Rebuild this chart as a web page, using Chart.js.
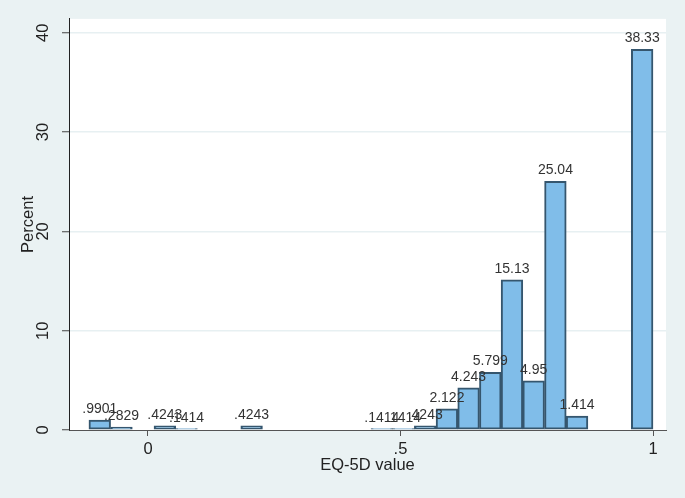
<!DOCTYPE html>
<html lang="en">

<head>
    <meta charset="UTF-8">
    <title>EQ-5D value histogram</title>
    <script src="https://cdn.jsdelivr.net/npm/chart.js"></script>
    <style>
        html, body {
            margin: 0;
            padding: 0;
            background: #eaf2f3;
        }

        #wrap {
            width: 685px;
            height: 498px;
        }
    </style>
</head>

<body>
    <div id="wrap">
        <canvas id="histChart" width="685" height="498"></canvas>
    </div>

    <script>
        // bin midpoints (EQ-5D value), percent in each bin, and the labels Stata printed
        const binCenters = [-0.0955, -0.0525, 0.0334, 0.0763, 0.2052, 0.4630, 0.5059, 0.5489,
            0.5919, 0.6348, 0.6778, 0.7207, 0.7637, 0.8067, 0.8496, 0.9785];
        const percents = [0.9901, 0.2829, 0.4243, 0.1414, 0.4243, 0.1414, 0.1414, 0.4243,
            2.122, 4.243, 5.799, 15.13, 4.95, 25.04, 1.414, 38.33];
        const barLabels = ['.9901', '.2829', '.4243', '.1414', '.4243', '.1414', '.1414', '.4243',
            '2.122', '4.243', '5.799', '15.13', '4.95', '25.04', '1.414', '38.33'];
        const xTicks = [0, 0.5, 1];
        const xTickLabels = ['0', '.5', '1'];
        const yTicks = [0, 10, 20, 30, 40];

        const FONT = 'Liberation Sans, Arial, sans-serif';

        // white plot region on the grey page
        const plotBackground = {
            id: 'plotBackground',
            beforeDraw(chart) {
                const { ctx, chartArea } = chart;
                ctx.save();
                ctx.fillStyle = '#ffffff';
                ctx.fillRect(chartArea.left, chartArea.top,
                    chartArea.right - chartArea.left, chartArea.bottom - chartArea.top);
                ctx.restore();
            }
        };

        // value labels above each bar
        const barValueLabels = {
            id: 'barValueLabels',
            afterDatasetsDraw(chart) {
                const { ctx } = chart;
                const meta = chart.getDatasetMeta(0);
                ctx.save();
                ctx.font = '14px ' + FONT;
                ctx.fillStyle = '#333333';
                ctx.textAlign = 'center';
                ctx.textBaseline = 'alphabetic';
                meta.data.forEach((bar, i) => {
                    ctx.fillText(barLabels[i], bar.x, bar.y - 7);
                });
                ctx.restore();
            }
        };

        const data = {
            datasets: [{
                data: binCenters.map((x, i) => ({ x: x, y: percents[i] })),
                backgroundColor: '#80bde9',
                borderColor: '#35566e',
                borderWidth: 2,
                borderSkipped: false,
                barPercentage: 1,
                categoryPercentage: 1
            }]
        };

        const options = {
            responsive: false,
            animation: false,
            layout: {
                padding: { top: 18, right: 19, left: 0, bottom: 0 }
            },
            plugins: {
                legend: { display: false },
                tooltip: { enabled: false }
            },
            scales: {
                x: {
                    type: 'linear',
                    offset: false,
                    min: -0.1564,
                    max: 1.0257,
                    afterBuildTicks(scale) {
                        scale.ticks = xTicks.map(v => ({ value: v }));
                    },
                    afterFit(scale) {
                        scale.height = 68;
                    },
                    ticks: {
                        callback: (v) => xTickLabels[xTicks.indexOf(v)],
                        font: { family: FONT, size: 16.5 },
                        color: '#222222',
                        padding: 4,
                        maxRotation: 0
                    },
                    grid: {
                        offset: false,
                        drawOnChartArea: false,
                        tickLength: 6,
                        tickColor: '#555555',
                        tickWidth: 1
                    },
                    border: { color: '#555555', width: 1 },
                    title: {
                        display: true,
                        text: 'EQ-5D value',
                        font: { family: FONT, size: 16.5 },
                        color: '#222222',
                        padding: { top: 0, bottom: 23 }
                    }
                },
                y: {
                    min: 0,
                    max: 41.4,
                    afterBuildTicks(scale) {
                        scale.ticks = yTicks.map(v => ({ value: v }));
                    },
                    afterFit(scale) {
                        scale.width = 69;
                    },
                    ticks: {
                        font: { family: FONT, size: 16.5 },
                        color: '#222222',
                        minRotation: 90,
                        maxRotation: 90,
                        crossAlign: 'center',
                        padding: 9
                    },
                    grid: {
                        color: (c) => c.tick && c.tick.value === 0 ? 'rgba(0,0,0,0)' : '#e7f0f2',
                        lineWidth: 1.5,
                        tickLength: 7,
                        tickColor: '#444444',
                        tickWidth: 1
                    },
                    border: { color: '#222222', width: 1 },
                    title: {
                        display: true,
                        text: 'Percent',
                        font: { family: FONT, size: 16.5 },
                        color: '#222222',
                        padding: { top: 19, bottom: 0 }
                    }
                }
            }
        };

        const ctx = document.getElementById('histChart').getContext('2d');
        new Chart(ctx, {
            type: 'bar',
            data: data,
            options: options,
            plugins: [plotBackground, barValueLabels]
        });
    </script>
</body>

</html>
